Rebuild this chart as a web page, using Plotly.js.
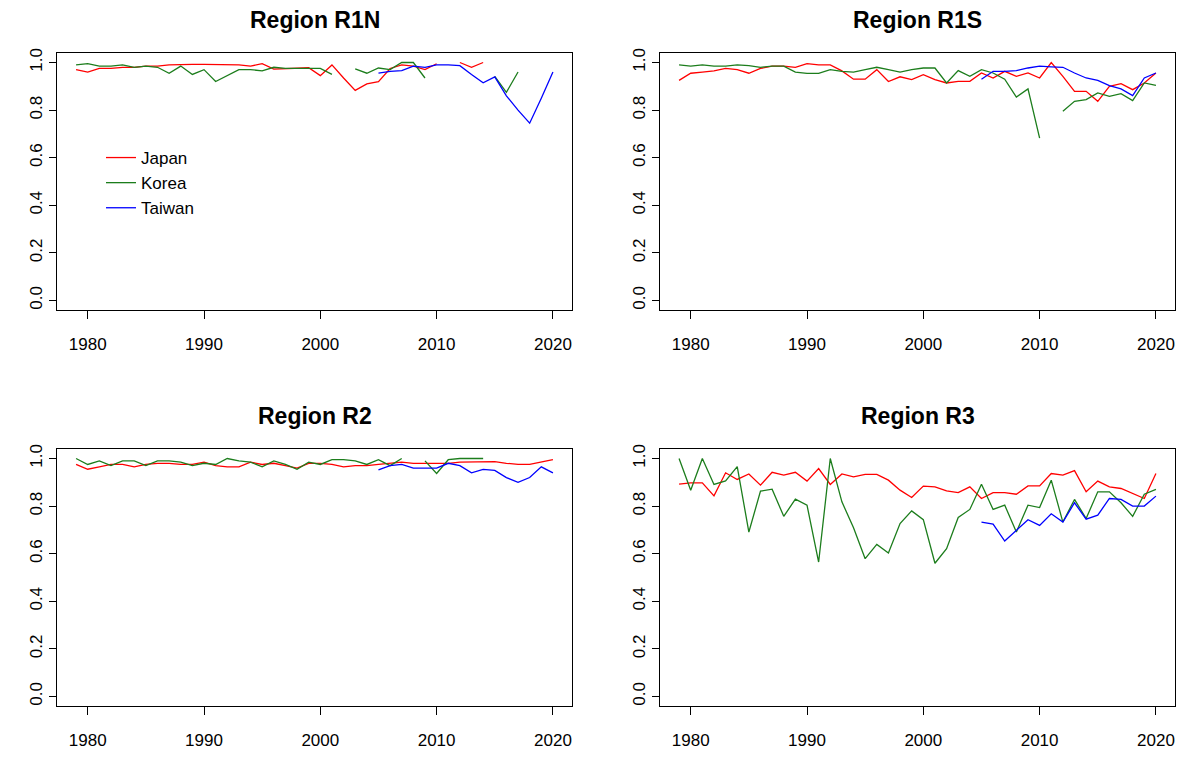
<!DOCTYPE html>
<html>
<head>
<meta charset="utf-8">
<script src="https://cdn.plot.ly/plotly-3.0.1.min.js"></script>
<style>
  html, body { margin: 0; padding: 0; background: #ffffff; }
  #chart { width: 1187px; height: 757px; }
</style>
</head>
<body>
<div id="chart"></div>
<script>
// Years of the seasonal series (1979-2020)
const years = [];
for (let y = 1979; y <= 2020; y++) years.push(y);

const countries = ["Japan", "Korea", "Taiwan"];
const regions = ["Region R1N", "Region R1S", "Region R2", "Region R3"];

// ---- Region R1N ----
const r1nJapan = [0.970, 0.960, 0.975, 0.975, 0.980, 0.980, 0.985, 0.985, 0.990, 0.992,
                  0.992, 0.992, 0.992, 0.992, 0.990, 0.985, 0.995, 0.972, 0.975, 0.975,
                  0.978, 0.945, 0.990, 0.935, 0.883, 0.910, 0.920, 0.975, 0.990, 0.985,
                  0.970, 0.995, null, 1.000, 0.980, 1.000, null, null, null, null,
                  null, null];
const r1nKorea = [0.990, 0.995, 0.985, 0.985, 0.990, 0.980, 0.985, 0.980, 0.955, 0.985,
                  0.950, 0.970, 0.920, 0.945, 0.970, 0.970, 0.965, 0.980, 0.975, 0.975,
                  0.975, 0.975, 0.950, null, 0.973, 0.955, 0.977, 0.970, 1.000, 1.000,
                  0.935, null, null, null, null, null, 0.942, 0.875, 0.960, null,
                  null, null];
const r1nTaiwan = [null, null, null, null, null, null, null, null, null, null,
                   null, null, null, null, null, null, null, null, null, null,
                   null, null, null, null, null, null, 0.955, 0.963, 0.966, 0.985,
                   0.980, 0.990, 0.990, 0.987, 0.950, 0.915, 0.940, 0.860, 0.800, 0.745,
                   0.850, 0.960];

// ---- Region R1S ----
const r1sJapan = [0.925, 0.955, 0.960, 0.965, 0.975, 0.970, 0.955, 0.975, 0.985, 0.985,
                  0.980, 0.995, 0.990, 0.990, 0.965, 0.930, 0.930, 0.970, 0.920, 0.940,
                  0.928, 0.949, 0.928, 0.914, 0.921, 0.921, 0.956, 0.935, 0.963, 0.942,
                  0.956, 0.935, 1.000, 0.942, 0.879, 0.879, 0.837, 0.900, 0.911, 0.886,
                  0.914, 0.956];
const r1sKorea = [0.990, 0.985, 0.990, 0.985, 0.985, 0.990, 0.987, 0.980, 0.985, 0.985,
                  0.960, 0.954, 0.954, 0.970, 0.963, 0.960, 0.970, 0.980, 0.970, 0.960,
                  0.970, 0.977, 0.977, 0.914, 0.966, 0.942, 0.970, 0.956, 0.930, 0.855,
                  0.889, 0.682, null, 0.795, 0.837, 0.844, 0.872, 0.858, 0.869, 0.840,
                  0.914, 0.904];
const r1sTaiwan = [null, null, null, null, null, null, null, null, null, null,
                   null, null, null, null, null, null, null, null, null, null,
                   null, null, null, null, null, null, 0.930, 0.963, 0.963, 0.966,
                   0.977, 0.985, 0.982, 0.980, 0.956, 0.935, 0.925, 0.903, 0.889, 0.861,
                   0.935, 0.956];

// ---- Region R2 ----
const r2Japan = [0.975, 0.955, 0.965, 0.975, 0.975, 0.965, 0.975, 0.980, 0.980, 0.975,
                 0.975, 0.985, 0.970, 0.965, 0.965, 0.985, 0.975, 0.980, 0.970, 0.960,
                 0.980, 0.980, 0.975, 0.965, 0.970, 0.970, 0.975, 0.980, 0.985, 0.980,
                 0.980, 0.980, 0.980, 0.985, 0.985, 0.985, 0.987, 0.980, 0.975, 0.975,
                 0.985, 0.995];
const r2Korea = [1.000, 0.975, 0.990, 0.970, 0.990, 0.990, 0.970, 0.990, 0.990, 0.985,
                 0.970, 0.980, 0.975, 1.000, 0.990, 0.985, 0.965, 0.990, 0.975, 0.955,
                 0.985, 0.975, 0.995, 0.995, 0.990, 0.975, 0.995, 0.970, 1.000, null,
                 0.990, 0.937, 0.995, 1.000, 1.000, 1.000, null, null, null, null,
                 null, null];
const r2Taiwan = [null, null, null, null, null, null, null, null, null, null,
                  null, null, null, null, null, null, null, null, null, null,
                  null, null, null, null, null, null, 0.952, 0.970, 0.975, 0.960,
                  0.960, 0.960, 0.980, 0.970, 0.940, 0.954, 0.950, 0.920, 0.900, 0.920,
                  0.965, 0.940];

// ---- Region R3 ----
const r3Japan = [0.892, 0.898, 0.898, 0.843, 0.940, 0.912, 0.935, 0.888, 0.942, 0.930,
                 0.942, 0.905, 0.958, 0.891, 0.935, 0.923, 0.933, 0.933, 0.909, 0.867,
                 0.836, 0.884, 0.881, 0.864, 0.857, 0.881, 0.832, 0.857, 0.857, 0.850,
                 0.885, 0.885, 0.937, 0.930, 0.949, 0.860, 0.905, 0.881, 0.874, 0.853,
                 0.832, 0.937];
const r3Korea = [1.000, 0.867, 1.000, 0.891, 0.906, 0.966, 0.691, 0.863, 0.871, 0.757,
                 0.829, 0.804, 0.565, 1.000, 0.818, 0.709, 0.579, 0.639, 0.603, 0.727,
                 0.780, 0.743, 0.560, 0.621, 0.752, 0.786, 0.892, 0.786, 0.804, 0.691,
                 0.804, 0.794, 0.909, 0.733, 0.828, 0.748, 0.860, 0.860, 0.814, 0.757,
                 0.850, 0.870];
const r3Taiwan = [null, null, null, null, null, null, null, null, null, null,
                  null, null, null, null, null, null, null, null, null, null,
                  null, null, null, null, null, null, 0.733, 0.724, 0.653, 0.698,
                  0.743, 0.719, 0.768, 0.733, 0.814, 0.745, 0.762, 0.832, 0.828, 0.800,
                  0.800, 0.842];

// Axis ticks
const xTicks = [1980, 1990, 2000, 2010, 2020];
const yTicks = [0, 0.2, 0.4, 0.6, 0.8, 1.0];
const yTickText = ["0.0", "0.2", "0.4", "0.6", "0.8", "1.0"];

// ---- drawing ----
const W = 1187, H = 757;
const colors = { Japan: "#ff0000", Korea: "#1c7d1c", Taiwan: "#0000ff" };
const font = "Liberation Sans, Arial, Helvetica, sans-serif";

// plot boxes in pixels: [left, top, right, bottom]
const boxes = [
  [57, 53, 572, 310],
  [660, 53, 1175, 310],
  [57, 449, 572, 706],
  [660, 449, 1175, 706]
];

const series = [
  [r1nJapan, r1nKorea, r1nTaiwan],
  [r1sJapan, r1sKorea, r1sTaiwan],
  [r2Japan, r2Korea, r2Taiwan],
  [r3Japan, r3Korea, r3Taiwan]
];

const traces = [];
const layout = {
  width: W, height: H,
  margin: { l: 0, r: 0, t: 0, b: 0 },
  paper_bgcolor: "#ffffff",
  plot_bgcolor: "#ffffff",
  font: { family: font, color: "#000000", size: 17 },
  showlegend: true,
  legend: {
    x: 101 / W, y: 1 - 140 / H, xanchor: "left", yanchor: "top",
    bgcolor: "rgba(0,0,0,0)", borderwidth: 0,
    font: { family: font, size: 17, color: "#000000" },
    tracegroupgap: 0
  },
  annotations: []
};

boxes.forEach((b, i) => {
  const n = i === 0 ? "" : String(i + 1);
  const xa = "xaxis" + n, ya = "yaxis" + n;
  layout[xa] = {
    domain: [b[0] / W, b[2] / W],
    range: [1977.36, 2021.64],
    tickvals: xTicks,
    ticktext: xTicks.map(String),
    ticks: "outside", ticklen: 8, tickwidth: 1, tickcolor: "#000000",
    showline: true, mirror: true, linecolor: "#000000", linewidth: 1,
    showgrid: false, zeroline: false,
    ticklabelstandoff: 11,
    tickfont: { family: font, size: 17, color: "#000000" },
    anchor: "y" + n, fixedrange: true
  };
  layout[ya] = {
    domain: [1 - b[3] / H, 1 - b[1] / H],
    range: [-0.04, 1.04],
    tickvals: yTicks,
    ticktext: yTickText,
    tickangle: -90,
    ticks: "outside", ticklen: 7, tickwidth: 1, tickcolor: "#000000",
    showline: true, mirror: true, linecolor: "#000000", linewidth: 1,
    showgrid: false, zeroline: false,
    ticklabelstandoff: 0,
    tickfont: { family: font, size: 17, color: "#000000" },
    anchor: "x" + n, fixedrange: true
  };
  layout.annotations.push({
    text: "<b>" + regions[i] + "</b>",
    xref: "paper", yref: "paper",
    x: (b[0] + b[2]) / 2 / W, y: 1 - (b[1] - 33) / H,
    xanchor: "center", yanchor: "middle",
    showarrow: false,
    font: { family: font, size: 23, color: "#000000" }
  });
  countries.forEach((c, k) => {
    traces.push({
      type: "scatter", mode: "lines",
      x: years, y: series[i][k],
      name: c,
      legendgroup: c,
      showlegend: i === 0,
      connectgaps: false,
      line: { color: colors[c], width: 1.3 },
      xaxis: "x" + n, yaxis: "y" + n,
      hoverinfo: "skip"
    });
  });
});

Plotly.newPlot("chart", traces, layout, { staticPlot: true, displayModeBar: false });
</script>
</body>
</html>
